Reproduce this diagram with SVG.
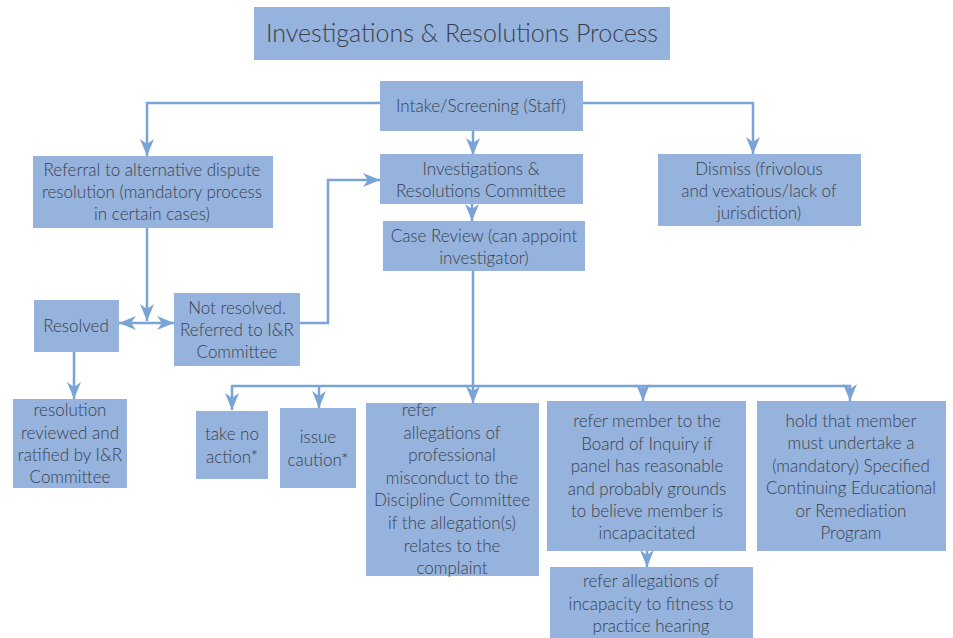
<svg xmlns="http://www.w3.org/2000/svg" width="953" height="638" viewBox="0 0 953 638">
<defs>
<style>
.box{fill:#95b3dc}
.t{font-family:Lato,"Open Sans","Liberation Sans",sans-serif;font-weight:300;font-size:17px;fill:#3b3f4c;text-anchor:middle}
.title{font-size:25px}
.c{fill:none;stroke:#7aa3d6;stroke-width:2.5}
</style>
<marker id="ah" viewBox="0 0 17 14" markerUnits="userSpaceOnUse" markerWidth="17" markerHeight="14" refX="17" refY="7" orient="auto-start-reverse">
<path d="M0,0 L17,7 L0,14 L5,7 z" fill="#7aa3d6"/>
</marker>
</defs>
<rect width="953" height="638" fill="#ffffff"/>
<g id="connectors">
<path class="c" d="M473,131 V155" marker-end="url(#ah)"/>
<path class="c" d="M472,204 V221" marker-end="url(#ah)"/>
<path class="c" d="M380,103 H147 V156" marker-end="url(#ah)"/>
<path class="c" d="M583,103 H753 V154" marker-end="url(#ah)"/>
<path class="c" d="M147,228 V321" marker-end="url(#ah)"/>
<path class="c" d="M119,323 H174" marker-start="url(#ah)" marker-end="url(#ah)"/>
<path class="c" d="M300,323 H328 V180 H380" marker-end="url(#ah)"/>
<path class="c" d="M74,352 V399" marker-end="url(#ah)"/>
<path class="c" d="M473,271 V403" marker-end="url(#ah)"/>
<path class="c" d="M232,386 H850 V401" marker-end="url(#ah)"/>
<path class="c" d="M232,385 V410" marker-end="url(#ah)"/>
<path class="c" d="M319,386 V408" marker-end="url(#ah)"/>
<path class="c" d="M643,386 V401" marker-end="url(#ah)"/>
<path class="c" d="M647,551 V567" marker-end="url(#ah)"/>
</g>
<g id="title"><rect class="box" x="254" y="7" width="416" height="53"/><text class="t title" x="462" y="42">Investigations &amp; Resolutions Process</text></g>
<g id="intake"><rect class="box" x="380" y="81" width="203" height="50"/><text class="t" x="481" y="112">Intake/Screening (Staff)</text></g>
<g id="irc"><rect class="box" x="380" y="154" width="203" height="50"/><text class="t" x="481" y="175">Investigations &amp;</text><text class="t" x="481" y="197">Resolutions Committee</text></g>
<g id="casereview"><rect class="box" x="383" y="221" width="202" height="50"/><text class="t" x="484" y="242">Case Review (can appoint</text><text class="t" x="484" y="264">investigator)</text></g>
<g id="referral"><rect class="box" x="33" y="156" width="240" height="72"/><text class="t" x="152" y="176">Referral to alternative dispute</text><text class="t" x="152" y="198">resolution (mandatory process</text><text class="t" x="152" y="220">in certain cases)</text></g>
<g id="dismiss"><rect class="box" x="658" y="154" width="203" height="72"/><text class="t" x="759" y="175">Dismiss (frivolous</text><text class="t" x="759" y="197">and vexatious/lack of</text><text class="t" x="759" y="219">jurisdiction)</text></g>
<g id="resolved"><rect class="box" x="34" y="300" width="85" height="52"/><text class="t" x="76" y="332">Resolved</text></g>
<g id="notresolved"><rect class="box" x="174" y="293" width="126" height="73"/><text class="t" x="237" y="314">Not resolved.</text><text class="t" x="237" y="336">Referred to I&amp;R</text><text class="t" x="237" y="358">Committee</text></g>
<g id="ratified"><rect class="box" x="13" y="399" width="114" height="89"/><text class="t" x="70" y="416">resolution</text><text class="t" x="70" y="439">reviewed and</text><text class="t" x="70" y="461">ratified by I&amp;R</text><text class="t" x="70" y="483">Committee</text></g>
<g id="noaction"><rect class="box" x="196" y="411" width="72" height="68"/><text class="t" x="232" y="440">take no</text><text class="t" x="232" y="463">action*</text></g>
<g id="caution"><rect class="box" x="280" y="408" width="76" height="80"/><text class="t" x="318" y="443">issue</text><text class="t" x="318" y="466">caution*</text></g>
<g id="discipline"><rect class="box" x="366" y="403" width="173" height="173"/><text class="t" x="419" y="416">refer</text><text class="t" x="452" y="439">allegations of</text><text class="t" x="452" y="461">professional</text><text class="t" x="452" y="484">misconduct to the</text><text class="t" x="452" y="506">Discipline Committee</text><text class="t" x="452" y="529">if the allegation(s)</text><text class="t" x="452" y="552">relates to the</text><text class="t" x="452" y="574">complaint</text></g>
<g id="inquiry"><rect class="box" x="547" y="401" width="199" height="150"/><text class="t" x="647" y="427">refer member to the</text><text class="t" x="647" y="450">Board of Inquiry if</text><text class="t" x="647" y="472">panel has reasonable</text><text class="t" x="647" y="495">and probably grounds</text><text class="t" x="647" y="517">to believe member is</text><text class="t" x="647" y="539">incapacitated</text></g>
<g id="fitness"><rect class="box" x="550" y="567" width="203" height="71"/><text class="t" x="651" y="587">refer allegations of</text><text class="t" x="651" y="610">incapacity to fitness to</text><text class="t" x="651" y="632">practice hearing</text></g>
<g id="remediation"><rect class="box" x="757" y="401" width="189" height="150"/><text class="t" x="851" y="427">hold that member</text><text class="t" x="851" y="449">must undertake a</text><text class="t" x="851" y="472">(mandatory) Specified</text><text class="t" x="851" y="494">Continuing Educational</text><text class="t" x="851" y="517">or Remediation</text><text class="t" x="851" y="539">Program</text></g>
</svg>
